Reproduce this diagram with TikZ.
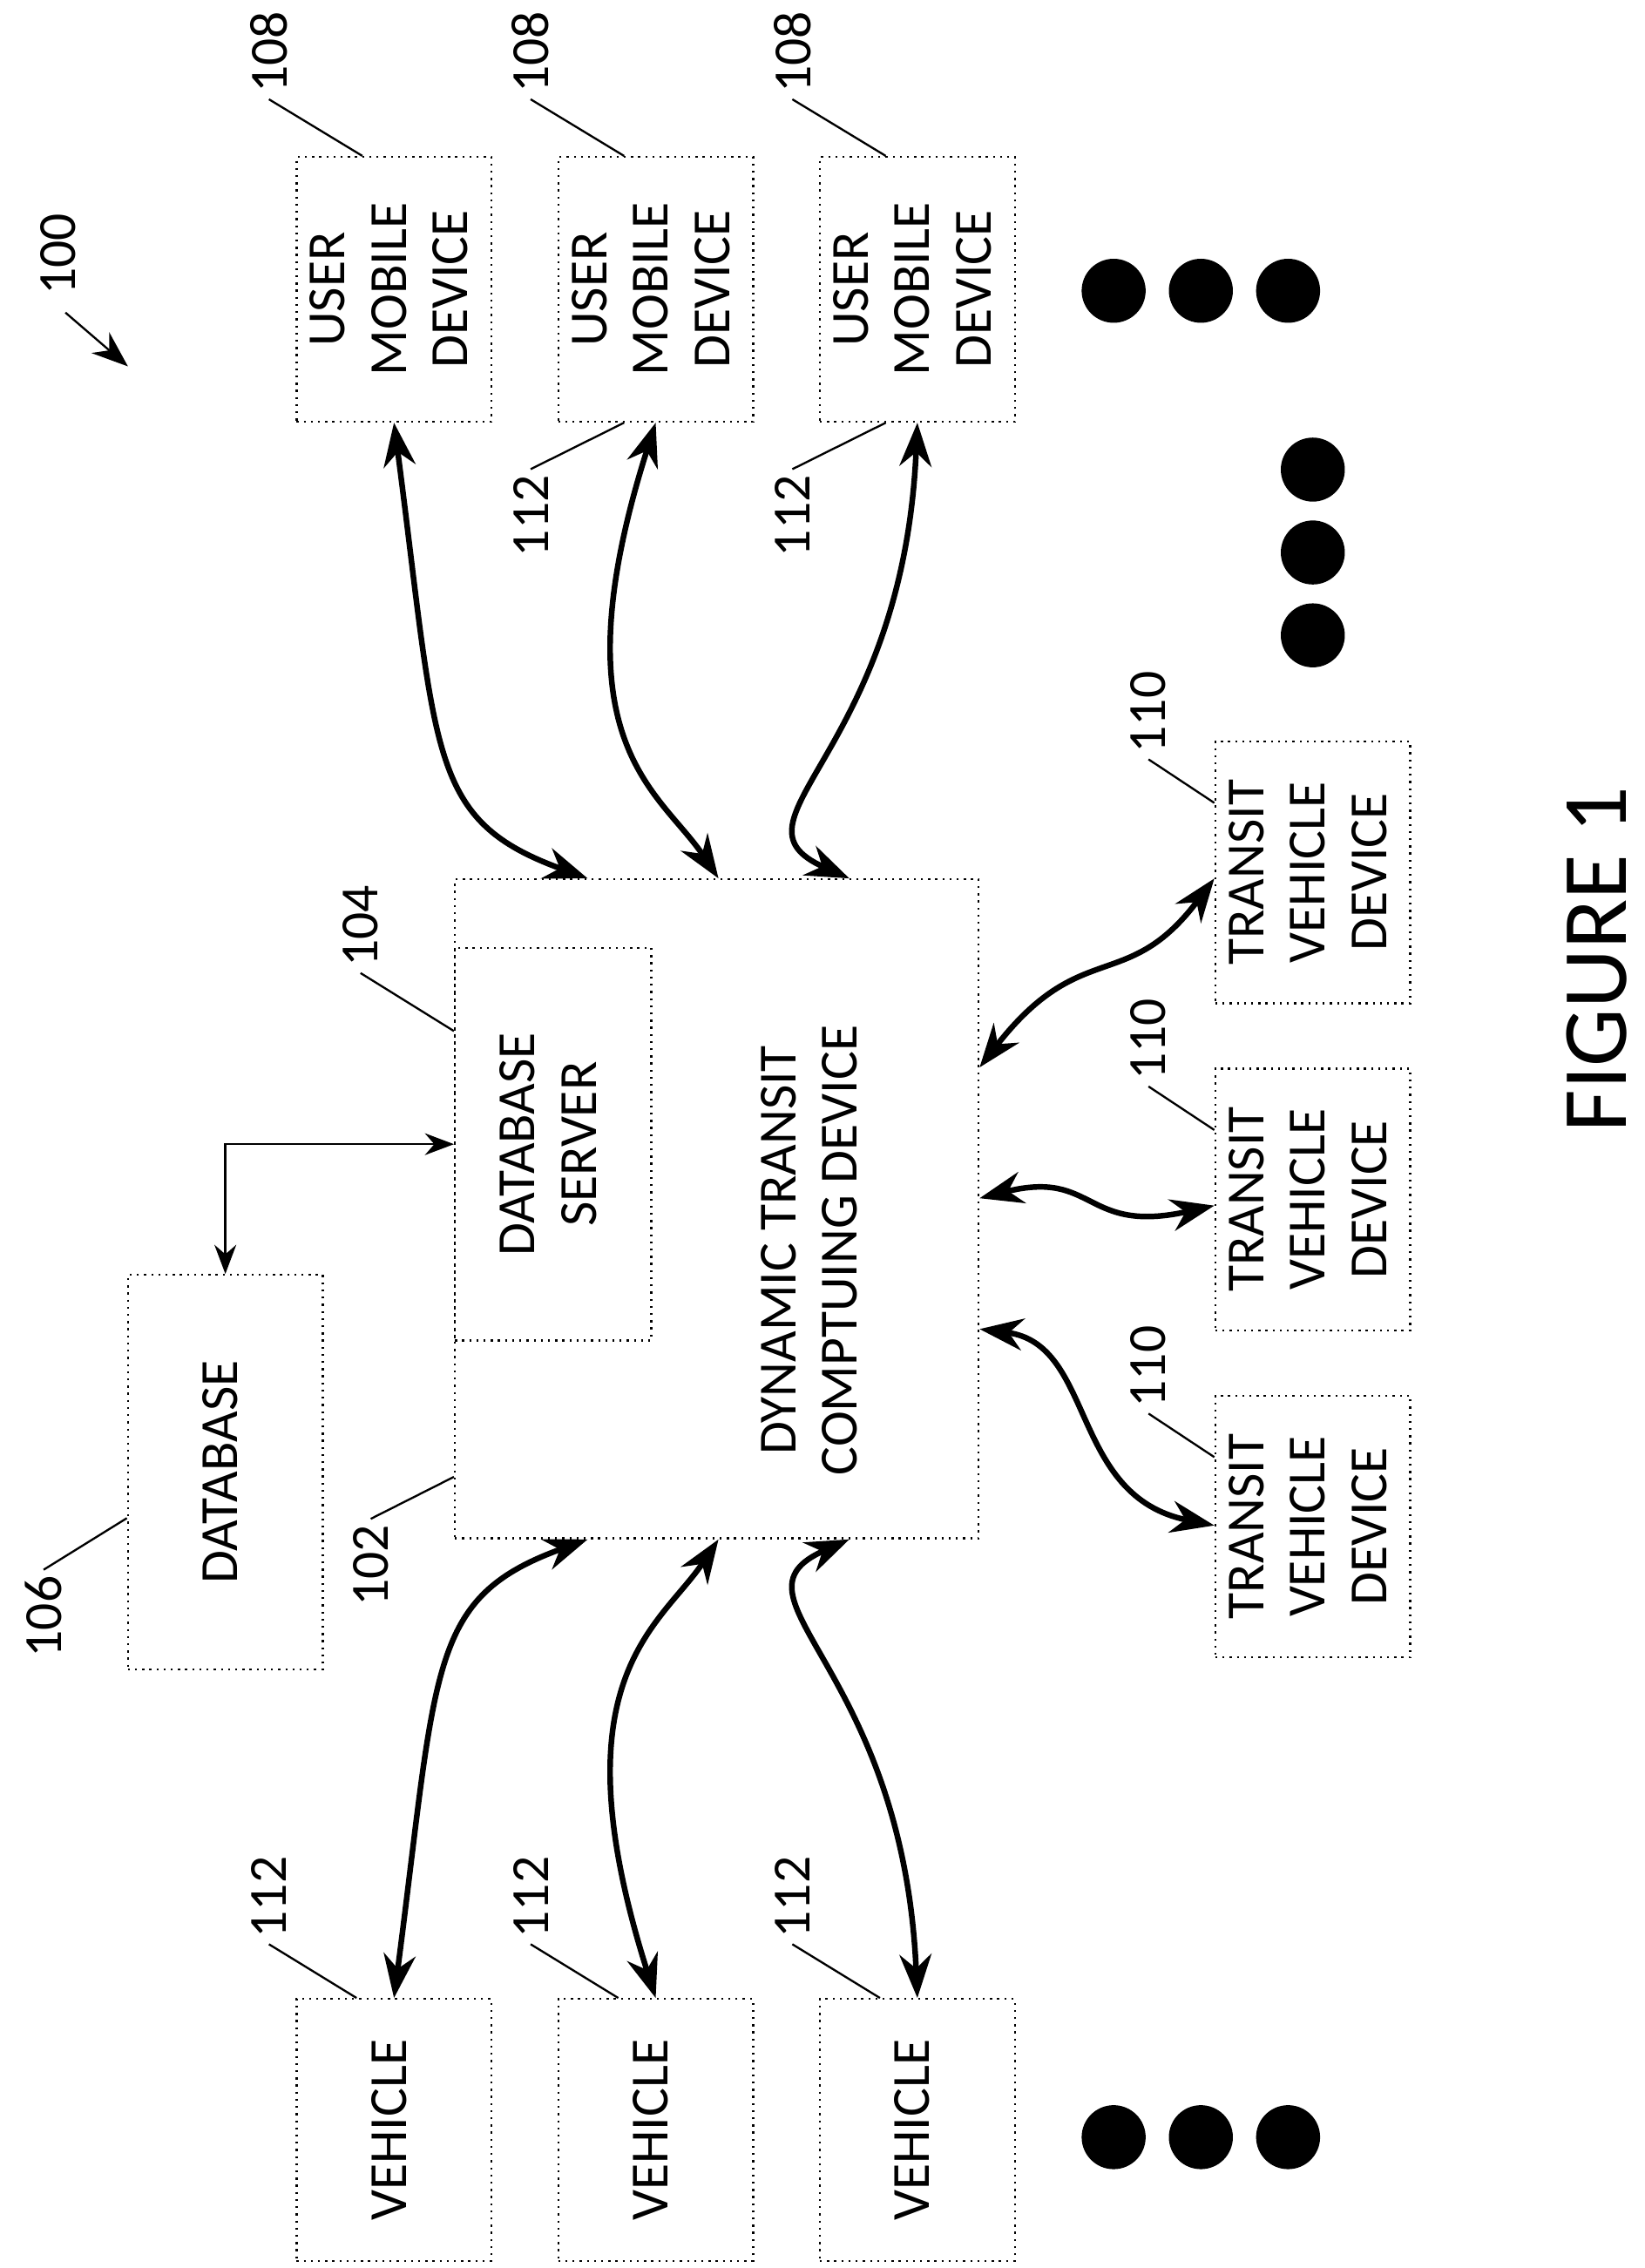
\documentclass[tikz,border=0pt]{standalone}
\usepackage{fontspec}
\setmainfont{Carlito}
\usetikzlibrary{calc, arrows.meta}

\tikzset{
  box/.style = {draw, densely dotted, thin, inner sep = 0pt, minimum width = 1.34cm, align = center, font = \fontsize{10.5}{12}\selectfont},
  link/.style = {{Stealth[length = 3mm, width = 2.2mm]}-{Stealth[length = 3mm, width = 2.2mm]}, line width = 1.1pt},
  tag/.style = {rotate = 90, inner sep = 1pt, font = \fontsize{10.5}{12}\selectfont},
  bigdot/.style = {circle, fill, inner sep = 0pt, minimum size = 0.44cm}
}
\newcommand{\turned}[1]{\rotatebox{90}{\begin{tabular}{@{}c@{}}#1\end{tabular}}}

\begin{document}
\begin{tikzpicture}[x = 0.01cm, y = -0.01cm]
\useasboundingbox (0, 0) rectangle (1131, 1560);

% central device
\node[box, minimum width = 3.6cm, minimum height = 4.53cm] (main) at (493, 831.5) {};
\node[font = \fontsize{10.5}{12}\selectfont] (mainText) at (560, 860) {\turned{DYNAMIC TRANSIT\\COMPTUING DEVICE}};
\node[box, minimum width = 1.35cm, minimum height = 2.7cm] (dbs) at (380.5, 787) {\turned{DATABASE\\SERVER}};
\node[box, minimum height = 2.71cm] (db) at (155, 1012.5) {\turned{DATABASE}};

% user mobile devices
\node[box, minimum height = 1.82cm] (u1) at (271, 199) {\turned{USER\\MOBILE\\DEVICE}};
\node[box, minimum height = 1.82cm] (u2) at (451, 199) {\turned{USER\\MOBILE\\DEVICE}};
\node[box, minimum height = 1.82cm] (u3) at (631, 199) {\turned{USER\\MOBILE\\DEVICE}};

% vehicles
\node[box, minimum height = 1.8cm] (v1) at (271, 1465) {\turned{VEHICLE}};
\node[box, minimum height = 1.8cm] (v2) at (451, 1465) {\turned{VEHICLE}};
\node[box, minimum height = 1.8cm] (v3) at (631, 1465) {\turned{VEHICLE}};

% transit vehicle devices
\node[box, minimum height = 1.8cm] (t1) at (903, 600) {\turned{TRANSIT\\VEHICLE\\DEVICE}};
\node[box, minimum height = 1.8cm] (t2) at (903, 825) {\turned{TRANSIT\\VEHICLE\\DEVICE}};
\node[box, minimum height = 1.8cm] (t3) at (903, 1050) {\turned{TRANSIT\\VEHICLE\\DEVICE}};

% dots
\foreach \x [count = \i] in {766, 826, 886} {
  \node[bigdot] (dTop\i) at (\x, 200) {};
  \node[bigdot] (dBot\i) at (\x, 1470) {};
}
\foreach \y [count = \i] in {323, 380, 437}
  \node[bigdot] (dMid\i) at (903, \y) {};

% links
\draw[link] (u1.south) .. controls +(30, 230) and +(-110, -40) .. ($(main.north west) + (92, 0)$);
\draw[link] (u2.south) .. controls +(-70, 220) and +(-40, -60) .. ($(main.north west) + (182, 0)$);
\draw[link] (u3.south) .. controls +(-10, 230) and +(-90, -40) .. ($(main.north west) + (272, 0)$);

\draw[link] (v1.north) .. controls +(30, -230) and +(-110, 40) .. ($(main.south west) + (92, 0)$);
\draw[link] (v2.north) .. controls +(-70, -220) and +(-40, 60) .. ($(main.south west) + (182, 0)$);
\draw[link] (v3.north) .. controls +(-10, -230) and +(-90, 40) .. ($(main.south west) + (272, 0)$);

\draw[link] ($(t1.north west) + (0, 95)$) .. controls +(-60, 80) and +(70, -90) .. ($(main.north east) + (0, 130)$);
\draw[link] ($(t2.north west) + (0, 95)$) .. controls +(-90, 20) and +(80, -20) .. ($(main.north east) + (0, 220)$);
\draw[link] ($(t3.north west) + (0, 90)$) .. controls +(-100, -20) and +(80, 10) .. ($(main.north east) + (0, 310)$);

\draw[{Stealth[length = 2mm]}-{Stealth[length = 2mm]}, thin] (db.north) |- (dbs.west);

% reference numerals
\node[tag] (n100) at (40, 175) {100};
\draw[-{Stealth[length = 2.5mm]}, thin] ($(n100) + (5, 40)$) -- ($(n100) + (48, 77)$);

\foreach \i/\x in {1/185, 2/365, 3/545} {
  \node[tag] (n108\i) at (\x, 36) {108};
  \draw[thin] (n108\i.west) -- ($(u\i.north west) + (46, 0)$);
  \node[tag] (n112v\i) at (\x, 1305) {112};
  \draw[thin] (n112v\i.west) -- ($(v\i.north west) + (42, 0)$);
}
\foreach \i/\x in {2/365, 3/545} {
  \node[tag] (n112u\i) at (\x, 355) {112};
  \draw[thin] (n112u\i.east) -- ($(u\i.south west) + (46, 0)$);
}
\foreach \i/\y in {1/490, 2/715, 3/940} {
  \node[tag] (n110\i) at (790, \y) {110};
  \draw[thin] (n110\i.west) -- ($(t\i.north west) + (0, 43)$);
}
\node[tag] (n104) at (248, 637) {104};
\draw[thin] (n104.west) -- ($(main.north west) + (0, 105)$);
\node[tag] (n106) at (30, 1112) {106};
\draw[thin] (n106.east) -- ($(db.north west) + (0, 168)$);
\node[tag] (n102) at (255, 1077) {102};
\draw[thin] (n102.east) -- ($(main.south west) + (0, -43)$);

\node[rotate = 90, inner sep = 1pt, font = \fontsize{18}{21}\selectfont] (fig) at (1098, 660) {FIGURE 1};
\end{tikzpicture}
\end{document}
